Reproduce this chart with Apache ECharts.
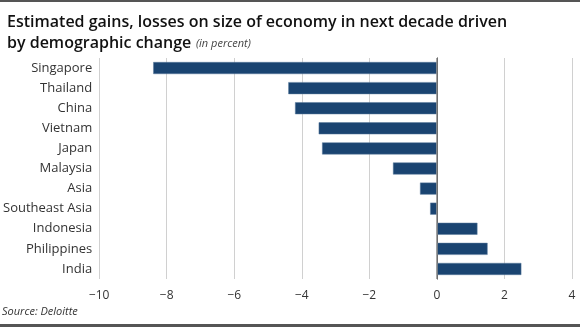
<!DOCTYPE html>
<html><head><meta charset="utf-8">
<style>html,body{margin:0;padding:0;background:#fff}#c{width:580px;height:327px}</style>
<script src="https://cdn.jsdelivr.net/npm/echarts@6/dist/echarts.min.js"></script>
</head><body><div id="c"></div>
<script>
const categories = ['Singapore','Thailand','China','Vietnam','Japan','Malaysia','Asia','Southeast Asia','Indonesia','Philippines','India'];
const values = [-8.4,-4.4,-4.2,-3.5,-3.4,-1.3,-0.5,-0.2,1.2,1.5,2.5];
const xTicks = { min: -10, max: 4, interval: 2 };

const chart = echarts.init(document.getElementById('c'), null, {renderer:'canvas'});
chart.setOption({
  animation: false,
  textStyle: { fontFamily: 'Open Sans' },
  title: {
    left: 2, top: 7,
    text: '{b|Estimated gains, losses on size of economy in next decade driven}\n{b|by demographic change} {i|(in percent)}',
    textStyle: {
      rich: {
        b: { fontFamily: 'Open Sans', fontWeight: 600, fontSize: 16, color: '#111', lineHeight: 21 },
        i: { fontFamily: 'Open Sans', fontStyle: 'italic', fontWeight: 'normal', fontSize: 11, color: '#444', lineHeight: 21 }
      }
    }
  },
  graphic: [
    { type: 'rect', shape: { x: 0, y: 0, width: 580, height: 2 }, style: { fill: '#555' } },
    { type: 'rect', shape: { x: 0, y: 324, width: 580, height: 3 }, style: { fill: '#555' } },
    { type: 'text', left: 2, top: 306, style: { text: 'Source: Deloitte', font: 'italic 11px "Open Sans"', fill: '#333' } }
  ],
  grid: { left: 99, right: 8, top: 58, bottom: 48, containLabel: false },
  xAxis: {
    type: 'value', min: xTicks.min, max: xTicks.max, interval: xTicks.interval,
    axisLine: { show: false }, axisTick: { show: false },
    splitLine: { show: true, lineStyle: { color: '#d0d0d0', width: 1 } },
    axisLabel: { color: '#333', fontSize: 12, margin: 11, fontFamily: 'Open Sans',
      formatter: v => String(v).replace('-', '\u2212') }
  },
  yAxis: {
    type: 'category', data: categories, inverse: true,
    axisLine: { show: true, lineStyle: { color: '#222', width: 1 } },
    axisTick: { show: false },
    axisLabel: { color: '#333', fontSize: 13, margin: 7, fontFamily: 'Open Sans' }
  },
  series: [{
    type: 'bar', data: values, barWidth: 12,
    itemStyle: { color: '#1a4471', borderColor: '#5a7a9c', borderWidth: 0.5 },
    markLine: {
      silent: true, symbol: 'none', label: { show: false },
      lineStyle: { color: '#888', width: 1.5, type: 'solid' },
      data: [{ xAxis: 0 }]
    }
  }]
});
</script></body></html>
